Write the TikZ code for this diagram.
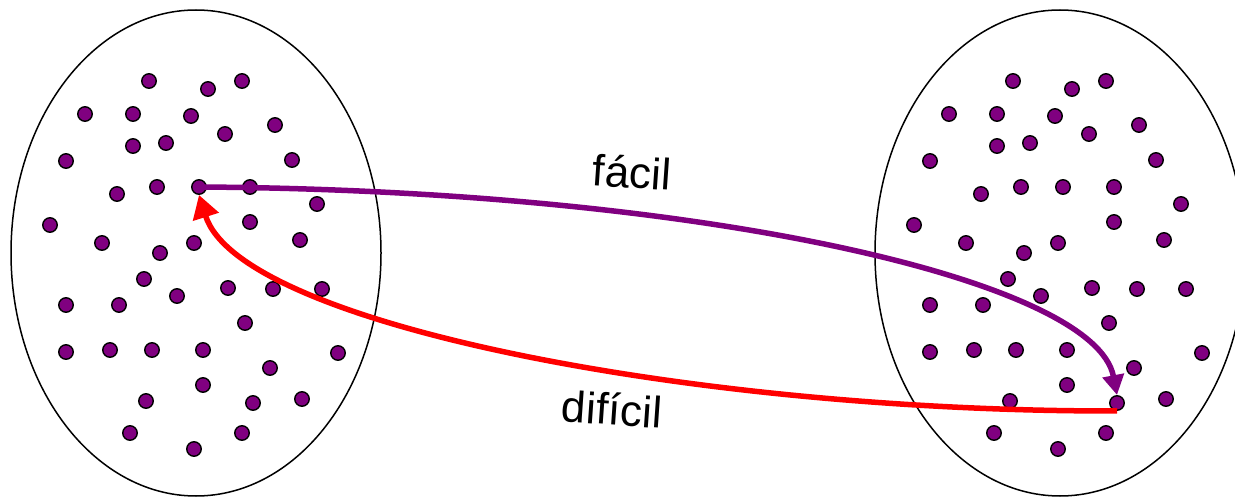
\documentclass[tikz,border=0pt]{standalone}
\usepackage{fontspec}
\setmainfont{Liberation Sans}
\usetikzlibrary{arrows.meta}
\definecolor{dotpurple}{HTML}{800080}
\definecolor{arrred}{HTML}{FF0000}
\tikzset{
  pt/.style={circle,draw=black,line width=1.4pt,fill=dotpurple,minimum size=14.5pt,inner sep=0pt},
  setell/.style={draw=black,line width=1.5pt},
  conn/.style={line width=5.5pt},
  lbl/.style={font=\fontsize{44}{50}\selectfont,rotate=-4,inner sep=0pt}
}
\begin{document}
\begin{tikzpicture}[x=1pt,y=-1pt]
\useasboundingbox (0,0) rectangle (1235,497);
\clip (0,0) rectangle (1235,497);
\draw[setell] (196,253) ellipse [x radius=185,y radius=243];
\draw[setell] (1060,253) ellipse [x radius=185,y radius=243];
\foreach \ox/\s in {0/L,864/R}{
  \foreach \x/\y [count=\i] in {149/81,208/89,242/81,85/114,133/114,191/116,275/125,225/134,133/146,166/143,66/161,292/160,157/187,199/187,250/187,117/194,317/204,50/225,250/222,102/243,300/240,194/243,160/253,144/279,228/288,273/289,322/289,66/305,119/305,177/296,245/323,66/352,110/350,152/350,203/350,338/353,270/368,203/385,146/401,253/403,302/399,130/433,242/433,194/449}{
    \node[pt] (\s\i) at (\x+\ox,\y) {};
  }
}
\draw[conn,dotpurple,-{Triangle[width=21pt,length=20pt]}] (L14.center) .. controls (700,190) and (1095,280) .. (R40.north);
\draw[conn,arrred,-{Triangle[width=26pt,length=23pt]}] (R40.south) .. controls (700,412) and (240,325) .. (L14.south);
\node[lbl] (easy) at (632,172) {fácil};
\node[lbl] (hard) at (612,409) {difícil};
\end{tikzpicture}
\end{document}
